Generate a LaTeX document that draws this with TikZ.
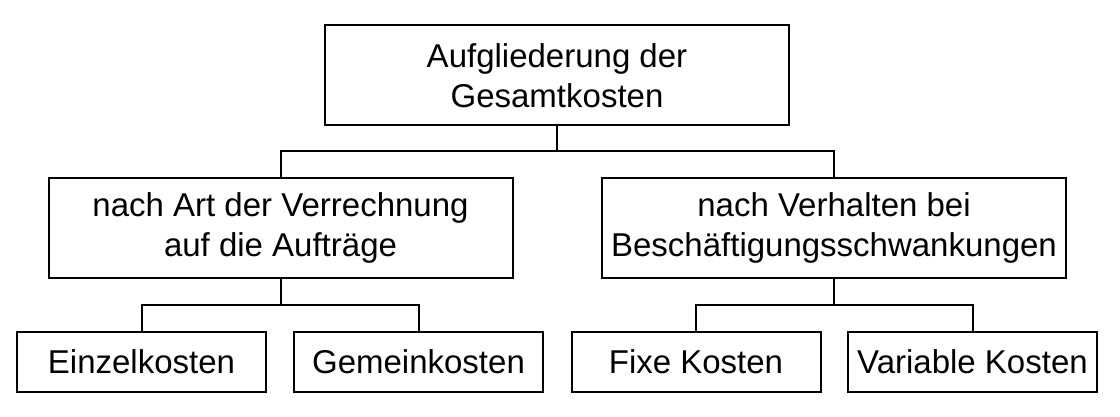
\documentclass[tikz,border=0pt]{standalone}
\usepackage{fontspec}
\setmainfont{Liberation Sans}
\begin{document}
\begin{tikzpicture}[x=0.5pt, y=-0.5pt, line width=1pt]

        % Rahmen des Bildes (Pixelmass des Originals)
        \useasboundingbox (0,0) rectangle (1120,417);

        % Stile fuer die Kaesten
        \tikzset{kasten/.style={draw, rectangle, inner sep=0pt, outer sep=0pt, align=center,
                 font=\fontsize{16.5}{20}\selectfont, minimum width=232pt, minimum height=50pt}}
        \tikzset{blatt/.style={kasten, minimum width=124.5pt, minimum height=30pt}}

        % Oberste Ebene
        \node[kasten] (gesamt) at (557, 75.5) {Aufgliederung der\\Gesamtkosten};

        % Zweite Ebene
        \node[kasten] (art) at (280.5, 228) {nach Art der Verrechnung\\auf die Auftr\"age};
        \node[kasten] (verhalten) at (834, 228) {nach Verhalten bei\\Besch\"aftigungsschwankungen};

        % Dritte Ebene
        \node[blatt] (einzel) at (141.5, 362) {Einzelkosten};
        \node[blatt] (gemein) at (418.5, 362) {Gemeinkosten};
        \node[blatt] (fix) at (696, 362) {Fixe Kosten};
        \node[blatt] (variabel) at (972.5, 362) {Variable Kosten};

        % Verbindungslinien
        \foreach \kind in {art, verhalten}
            \draw (gesamt.south) -- ++(0,-13pt) -| (\kind.north);
        \foreach \kind in {einzel, gemein}
            \draw (art.south) -- ++(0,-13.5pt) -| (\kind.north);
        \foreach \kind in {fix, variabel}
            \draw (verhalten.south) -- ++(0,-13.5pt) -| (\kind.north);

    \end{tikzpicture}
\end{document}
